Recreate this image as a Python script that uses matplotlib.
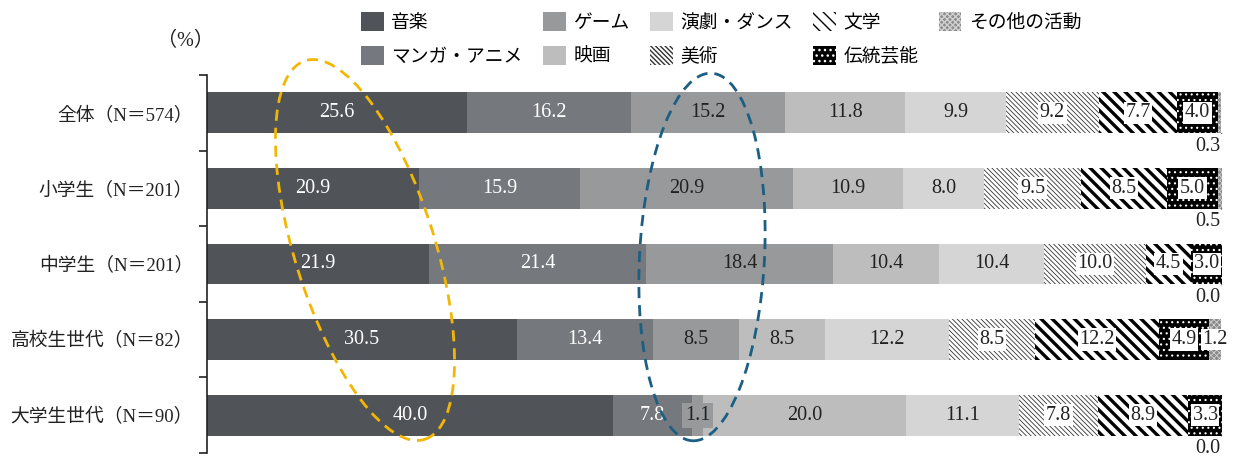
import matplotlib
matplotlib.use("Agg")
import matplotlib.pyplot as plt
from matplotlib.patches import Ellipse
import numpy as np

plt.rcParams['font.family'] = ['Liberation Serif', 'Noto Sans CJK JP', 'DejaVu Sans']

groups = ["全体（N＝574）", "小学生（N＝201）", "中学生（N＝201）", "高校生世代（N＝82）", "大学生世代（N＝90）"]
activities = ["音楽", "マンガ・アニメ", "ゲーム", "映画", "演劇・ダンス", "美術", "文学", "伝統芸能", "その他の活動"]

music = [25.6, 20.9, 21.9, 30.5, 40.0]
manga = [16.2, 15.9, 21.4, 13.4, 7.8]
game = [15.2, 20.9, 18.4, 8.5, 1.1]
movie = [11.8, 10.9, 10.4, 8.5, 20.0]
drama = [9.9, 8.0, 10.4, 12.2, 11.1]
art = [9.2, 9.5, 10.0, 8.5, 7.8]
literature = [7.7, 8.5, 4.5, 12.2, 8.9]
tradition = [4.0, 5.0, 3.0, 4.9, 3.3]
other = [0.3, 0.5, 0.0, 1.2, 0.0]

series = [music, manga, game, movie, drama, art, literature, tradition, other]

# style per series: facecolor, edgecolor, hatch, hatch lw, label color, white box
styles = [
    dict(fc="#505358", ec="#505358", hatch=None, hlw=1, tc="white", box=False),
    dict(fc="#75787c", ec="#75787c", hatch=None, hlw=1, tc="white", box=False),
    dict(fc="#97999b", ec="#97999b", hatch=None, hlw=1, tc="#222222", box=False),
    dict(fc="#bdbdbd", ec="#bdbdbd", hatch=None, hlw=1, tc="#222222", box=False),
    dict(fc="#d5d5d5", ec="#d5d5d5", hatch=None, hlw=1, tc="#222222", box=False),
    dict(fc="white", ec="#333333", hatch="\\\\\\\\\\\\\\", hlw=0.6, tc="#222222", box=True),
    dict(fc="white", ec="black", hatch="\\\\\\", hlw=2.4, tc="#222222", box=True),
    dict(fc="black", ec="white", hatch="...", hlw=0.8, tc="#222222", box=True),
    dict(fc="#8a8a8a", ec="#d0d0d0", hatch="xxxxxx", hlw=0.6, tc="#222222", box=False),
]

fs_val = 14.5

fig = plt.figure(figsize=(12.34, 4.57), dpi=100)
ax = fig.add_axes([0.1677, 0.0088, 0.8225, 0.8272])

y = np.arange(len(groups))
left = np.zeros(len(groups))
bh = 0.54
handles = []
for vals, st, name in zip(series, styles, activities):
    vals = np.array(vals)
    with plt.rc_context({'hatch.linewidth': st["hlw"]}):
        bars = ax.barh(y, vals, left=left, height=bh, color=st["fc"], edgecolor=st["ec"],
                       hatch=st["hatch"], linewidth=0, label=name)
    for b in bars:
        if hasattr(b, "set_hatch_linewidth"):
            b.set_hatch_linewidth(st["hlw"])
    handles.append(bars)
    for i, v in enumerate(vals):
        cx = left[i] + v / 2
        if name == "その他の活動":
            if v < 1.0:
                ax.annotate(f"{v:.1f}", xy=(100.0, y[i] + bh / 2), xytext=(98.6, y[i] + 0.44),
                            ha="center", va="center", fontsize=fs_val, color="#222222",
                            arrowprops=dict(arrowstyle="-", lw=0.6, color="#444444",
                                            shrinkA=6, shrinkB=0))
            else:
                ax.text(cx, y[i], f"{v:.1f}", ha="center", va="center", fontsize=fs_val,
                        color="#222222", clip_on=False,
                        bbox=dict(boxstyle="square,pad=0.05", fc="white", ec="none"))
            continue
        kw = {}
        if st["box"]:
            kw["bbox"] = dict(boxstyle="square,pad=0.08", fc="white", ec="none")
        elif v < 3:
            kw["bbox"] = dict(boxstyle="square,pad=0.15", fc=st["fc"], ec="none")
        ax.text(cx, y[i], f"{v:.1f}", ha="center", va="center", fontsize=fs_val,
                color=st["tc"], **kw)
    left = left + vals

ax.set_xlim(0, 100)
ax.set_ylim(len(groups) - 0.5, -0.5)
ax.set_yticks(y)
ax.set_yticklabels(groups, fontsize=13.5, color="#222222")
ax.set_yticks(np.arange(len(groups) + 1) - 0.5, minor=True)
ax.tick_params(axis="y", which="major", length=0, pad=10)
ax.tick_params(axis="y", which="minor", length=6, width=1.2, color="#222222")
ax.set_xticks([])
for s in ["top", "right", "bottom"]:
    ax.spines[s].set_visible(False)
ax.spines["left"].set_linewidth(1.2)
ax.spines["left"].set_color("#222222")

fig.text(0.15, 0.91, "（%）", ha="center", va="center", fontsize=14.5, color="#222222")

fig.legend(handles=handles, labels=activities, ncol=5, loc="upper left",
           bbox_to_anchor=(0.283, 1.0), frameon=False, fontsize=13.5,
           handlelength=1.2, handleheight=1.2, handletextpad=0.4,
           columnspacing=1.1, labelspacing=0.72, borderaxespad=0.25)

# highlight ellipses (drawn in inch coordinates so rotation stays round)
e1 = Ellipse((3.65, 2.07), 1.40, 3.97, angle=17.5, transform=fig.dpi_scale_trans,
             fill=False, ec="#f2b705", lw=2.0, ls=(0, (4, 2.5)), zorder=10)
e2 = Ellipse((7.02, 2.00), 1.25, 3.68, angle=-3, transform=fig.dpi_scale_trans,
             fill=False, ec="#1c5f82", lw=2.0, ls=(0, (4, 2.5)), zorder=10)
fig.add_artist(e1)
fig.add_artist(e2)

fig.savefig("out.png", dpi=100)
